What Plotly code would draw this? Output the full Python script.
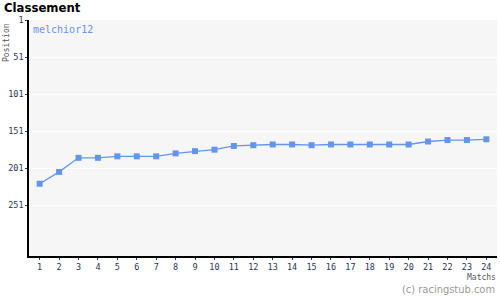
import plotly.graph_objects as go

matches = list(range(1, 25))
positions = [222, 206, 187, 187, 185, 185, 185, 181, 178, 176, 171, 170,
             169, 169, 170, 169, 169, 169, 169, 169, 165, 163, 163, 162]
y_ticks = [1, 51, 101, 151, 201, 251]
series_name = "melchior12"

fig = go.Figure()
fig.add_trace(go.Scatter(
    x=matches, y=positions, mode="lines+markers", name=series_name,
    line=dict(color="#6495ED", width=1.3),
    marker=dict(symbol="square", size=6, color="#6495ED"),
    showlegend=False,
))

fig.update_layout(
    width=500, height=300,
    margin=dict(l=29, r=3, t=20, b=44),
    paper_bgcolor="white", plot_bgcolor="#f6f6f6",
    font=dict(family="DejaVu Sans Mono", size=9, color="#2a3555"),
    xaxis=dict(
        range=[0.45, 24.55], tickmode="array", tickvals=matches,
        ticktext=[str(m) for m in matches],
        showgrid=False, zeroline=False,
        showline=True, linecolor="black", linewidth=1.5,
        ticks="outside", ticklen=2, tickcolor="#2a3555",
        tickfont=dict(family="DejaVu Sans Mono", size=8.5, color="#2a3555"),
    ),
    yaxis=dict(
        range=[319.5, 1], tickmode="array", tickvals=y_ticks,
        ticktext=[str(v) for v in y_ticks],
        showgrid=True, gridcolor="white", gridwidth=1.2, zeroline=False,
        showline=True, linecolor="black", linewidth=1.5,
        ticks="outside", ticklen=2, tickcolor="#2a3555",
        tickfont=dict(family="DejaVu Sans Mono", size=8.5, color="#2a3555"),
    ),
)

fig.add_annotation(text="<b>Classement</b>", xref="paper", yref="paper",
                   x=-27/468, y=1 + 21.5/236, xanchor="left", yanchor="top",
                   showarrow=False,
                   font=dict(family="DejaVu Sans Condensed", size=13, color="black"))
fig.add_annotation(text="Position", xref="paper", yref="paper",
                   x=-29/468, y=1 - 1/236, xanchor="left", yanchor="top",
                   textangle=-90, showarrow=False,
                   font=dict(family="DejaVu Sans Mono", size=8, color="#555555"))
fig.add_annotation(text=series_name, xref="paper", yref="paper",
                   x=0.005, y=0.99, xanchor="left", yanchor="top",
                   showarrow=False,
                   font=dict(family="DejaVu Sans Mono", size=10, color="#6495ED"))
fig.add_annotation(text="Matchs", xref="paper", yref="paper",
                   x=1 + 1/468, y=-15/236, xanchor="right", yanchor="top",
                   showarrow=False,
                   font=dict(family="DejaVu Sans Mono", size=8, color="#555555"))
fig.add_annotation(text="(c) racingstub.com", xref="paper", yref="paper",
                   x=1, y=-25/236, xanchor="right", yanchor="top",
                   showarrow=False,
                   font=dict(family="DejaVu Sans Condensed", size=11, color="#999999"))

fig.write_html("out.html")
